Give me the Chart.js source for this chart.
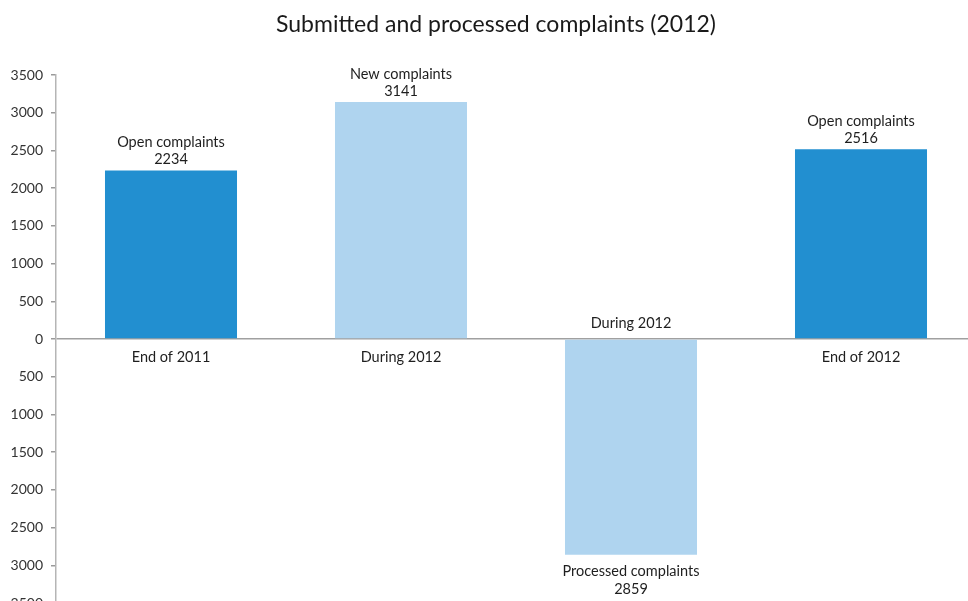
<!DOCTYPE html>
<html lang="en">
<head>
<meta charset="UTF-8">
<title>Submitted and processed complaints (2012)</title>
<style>
  html, body { margin: 0; padding: 0; overflow: hidden; background: #fff; }
  #chart { display: block; }
</style>
</head>
<body>
<canvas id="chart" width="992" height="620"></canvas>

<script src="https://cdn.jsdelivr.net/npm/chart.js@4/dist/chart.umd.min.js"></script>
<script>
// data
var categories = ['End of 2011', 'During 2012', 'During 2012', 'End of 2012'];
var labelText  = ['Open complaints', 'New complaints', 'Processed complaints', 'Open complaints'];
var values     = [2234, 3141, -2859, 2516];
var barColors  = ['#228fd0', '#afd4ef', '#afd4ef', '#228fd0'];
var chartTitle = 'Submitted and processed complaints (2012)';

var FONT = 'Lato, "Open Sans", sans-serif';

// title, category names next to the zero line, and the two-line label at each bar end
var barText = {
  id: 'barText',
  afterDraw: function(chart) {
    var ctx = chart.ctx;
    var meta = chart.getDatasetMeta(0);
    ctx.save();
    ctx.textAlign = 'center';
    ctx.textBaseline = 'middle';

    ctx.font = '23px ' + FONT;
    ctx.fillStyle = '#1a1a1a';
    ctx.fillText(chartTitle, 496, 25);

    ctx.font = '14.5px ' + FONT;
    ctx.fillStyle = '#1e1e1e';
    meta.data.forEach(function(bar, i) {
      var v = values[i];
      if (v >= 0) {
        ctx.fillText(categories[i], bar.x, bar.base + 19);
        ctx.fillText(labelText[i], bar.x, bar.y - 28);
        ctx.fillText(String(v), bar.x, bar.y - 11);
      } else {
        ctx.fillText(categories[i], bar.x, bar.base - 16);
        ctx.fillText(labelText[i], bar.x, bar.y + 17);
        ctx.fillText(String(Math.abs(v)), bar.x, bar.y + 35);
      }
    });
    ctx.restore();
  }
};

new Chart(document.getElementById('chart'), {
  type: 'bar',
  data: {
    labels: categories,
    datasets: [{
      data: values,
      backgroundColor: barColors,
      borderWidth: 0,
      categoryPercentage: 1,
      barPercentage: 0.574
    }]
  },
  options: {
    responsive: false,
    animation: false,
    layout: { padding: { left: 0, right: 16, top: 75, bottom: 17 } },
    plugins: {
      legend: { display: false },
      tooltip: { enabled: false },
      title: { display: false }
    },
    scales: {
      x: { display: false },
      y: {
        min: -3500,
        max: 3500,
        afterFit: function(s) { s.width = 56; },
        ticks: {
          stepSize: 500,
          padding: 8,
          color: '#333',
          font: { family: FONT, size: 14 },
          callback: function(v) { return Math.abs(v); }
        },
        border: { display: true, color: '#b5b5b5', width: 1.5 },
        grid: {
          drawOnChartArea: true,
          tickLength: 5,
          tickColor: '#9a9a9a',
          color: function(c) { return c.tick && c.tick.value === 0 ? '#a0a0a0' : 'transparent'; },
          lineWidth: 1.5
        }
      }
    }
  },
  plugins: [barText]
});
</script>
</body>
</html>
